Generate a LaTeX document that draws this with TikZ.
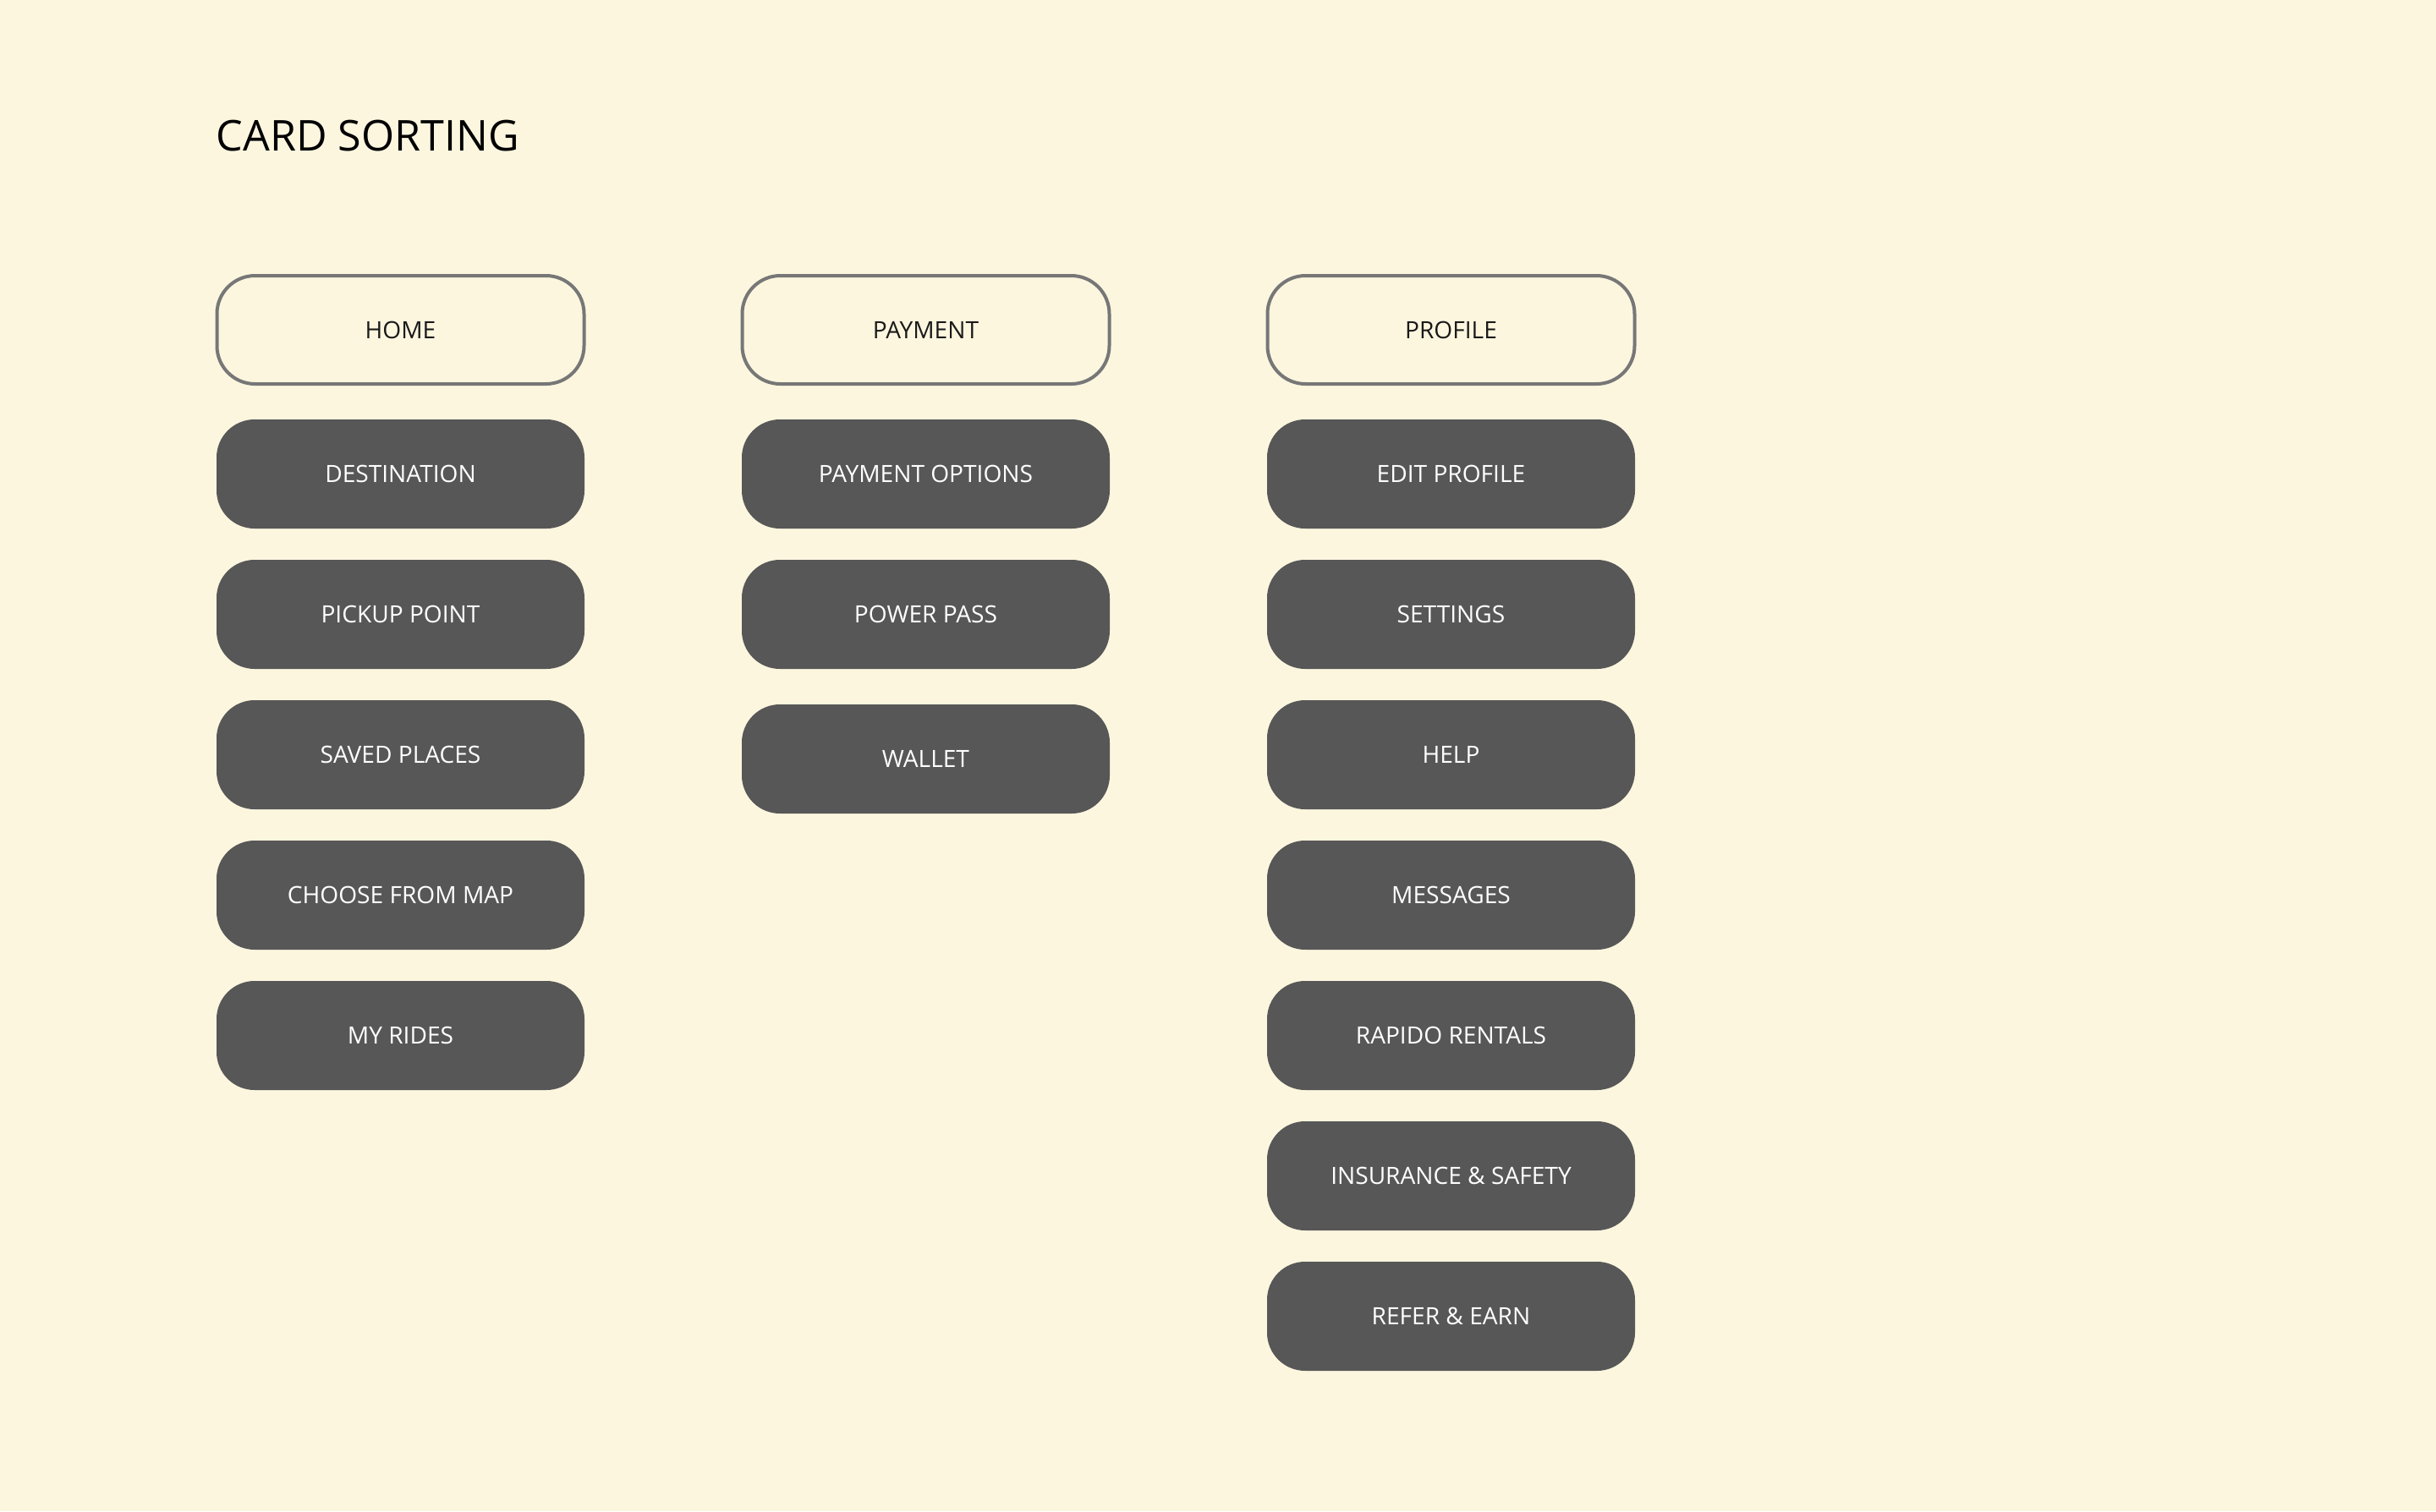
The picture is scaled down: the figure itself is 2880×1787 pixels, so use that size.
\documentclass[tikz,border=0pt]{standalone}
\usepackage{fontspec}
\setmainfont{Open Sans}
\usetikzlibrary{positioning}

\definecolor{paper}{HTML}{FCF6DF}
\definecolor{cardgray}{HTML}{575757}
\definecolor{rimgray}{HTML}{777777}

\tikzset{
    card/.style={rectangle, rounded corners=4.5mm, minimum width=43.5mm,
        minimum height=12.9mm, inner sep=0pt, outer sep=0pt,
        font=\fontsize{8}{9}\selectfont},
    headcard/.style={card, draw=rimgray, line width=0.4mm, text=black!90,
        minimum width=43.4mm, minimum height=12.8mm},
    itemcard/.style={card, fill=cardgray, text=white},
}

\begin{document}
\begin{tikzpicture}[x=0.1mm, y=-0.1mm, node distance=3.7mm]
                \fill [paper] (0,0) rectangle (2880,1787);
                \useasboundingbox (0,0) rectangle (2880,1787);
                \node [anchor=base west, inner sep=0pt, font=\fontsize{14.3}{16}\selectfont] (title) at (255,178) {CARD SORTING};
                % headers
                \node [headcard] (home) at (473.5,390) {HOME};
                \node [headcard] (payment) at (1094.5,390) {PAYMENT};
                \node [headcard] (profile) at (1715.5,390) {PROFILE};
                % home column
                \node [itemcard, below=4.2mm of home] (dest) {DESTINATION};
                \node [itemcard, below=of dest] (pickup) {PICKUP POINT};
                \node [itemcard, below=of pickup] (saved) {SAVED PLACES};
                \node [itemcard, below=of saved] (map) {CHOOSE FROM MAP};
                \node [itemcard, below=of map] (rides) {MY RIDES};
                % payment column
                \node [itemcard, below=4.2mm of payment] (options) {PAYMENT OPTIONS};
                \node [itemcard, below=of options] (pass) {POWER PASS};
                \node [itemcard, below=4.2mm of pass] (wallet) {WALLET};
                % profile column
                \node [itemcard, below=4.2mm of profile] (edit) {EDIT PROFILE};
                \node [itemcard, below=of edit] (settings) {SETTINGS};
                \node [itemcard, below=of settings] (help) {HELP};
                \node [itemcard, below=of help] (messages) {MESSAGES};
                \node [itemcard, below=of messages] (rentals) {RAPIDO RENTALS};
                \node [itemcard, below=of rentals] (safety) {INSURANCE \& SAFETY};
                \node [itemcard, below=of safety] (refer) {REFER \& EARN};
            \end{tikzpicture}
\end{document}
